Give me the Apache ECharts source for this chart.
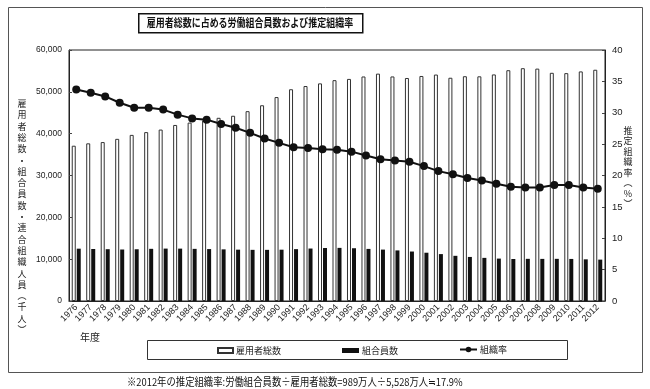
<!DOCTYPE html>
<html><head><meta charset="utf-8">
<script src="https://cdn.jsdelivr.net/npm/echarts@6/dist/echarts.min.js"></script>
<style>html,body{margin:0;padding:0;background:#fff}#c{width:650px;height:389px}</style>
</head><body><div id="c"></div>
<script>
const years = ['1976','1977','1978','1979','1980','1981','1982','1983','1984','1985','1986','1987','1988','1989','1990','1991','1992','1993','1994','1995','1996','1997','1998','1999','2000','2001','2002','2003','2004','2005','2006','2007','2008','2009','2010','2011','2012'];
const employees = [37120,37690,37990,38760,39710,40370,40980,42080,42650,43180,43790,44280,45380,46790,48750,50620,51390,52020,52790,53090,53670,54350,53680,53310,53790,54130,53370,53730,53710,54160,55170,55650,55550,54550,54470,54880,55280];
const members = [12509,12437,12383,12309,12369,12471,12526,12520,12464,12418,12343,12272,12227,12227,12265,12397,12541,12663,12699,12614,12451,12285,12093,11825,11539,11212,10801,10531,10309,10138,10041,10080,10065,10078,10054,9961,9892];
const rate = [33.7,33.2,32.6,31.6,30.8,30.8,30.5,29.7,29.1,28.9,28.2,27.6,26.8,25.9,25.2,24.5,24.4,24.2,24.1,23.8,23.2,22.6,22.4,22.2,21.5,20.7,20.2,19.6,19.2,18.7,18.2,18.1,18.1,18.5,18.5,18.1,17.9];
const leftTicks = [0,10000,20000,30000,40000,50000,60000];
const rightTicks = [0,5,10,15,20,25,30,35,40];
const titleText = '雇用者総数に占める労働組合員数および推定組織率';
const leftName = '雇用者総数・組合員数・連合組織人員︵千人︶';
const rightName = '推定組織率︵%︶';
const note = '※2012年の推定組織率:労働組合員数÷雇用者総数=989万人÷5,528万人≒17.9%';
const names = ['雇用者総数','組合員数','組織率'];

const FONT = '"Noto Sans CJK JP", "Liberation Sans Narrow", sans-serif';
const NUMFONT = '"Liberation Sans Narrow", "Liberation Sans", sans-serif';
const chart = echarts.init(document.getElementById('c'));
const fmt = v => v.toLocaleString('en-US');
chart.setOption({
  animation: false,
  backgroundColor: '#fff',
  grid: {left: 69, right: 45, top: 50, bottom: 88, show: true, borderColor: '#222', borderWidth: 1},
  xAxis: {
    type: 'category', data: years,
    axisLine: {lineStyle: {color: '#222', width: 1}},
    axisTick: {show: false},
    axisLabel: {rotate: 45, fontSize: 9, fontFamily: NUMFONT, color: '#222', interval: 0, margin: 5}
  },
  yAxis: [
    {type: 'value', min: 0, max: 60000, interval: 10000,
     axisLine: {show: true, lineStyle: {color: '#222'}},
     axisTick: {show: true, inside: true, length: 3, lineStyle: {color: '#444'}},
     splitLine: {show: false},
     axisLabel: {fontSize: 8.5, fontFamily: NUMFONT, color: '#222', margin: 7, formatter: v => leftTicks.includes(v) ? fmt(v) : ''}},
    {type: 'value', min: 0, max: 40, interval: 5,
     axisLine: {show: true, lineStyle: {color: '#222'}},
     axisTick: {show: true, inside: true, length: 3, lineStyle: {color: '#444'}},
     splitLine: {show: false},
     axisLabel: {fontSize: 9.5, fontFamily: NUMFONT, color: '#222', margin: 7, formatter: v => rightTicks.includes(v) ? String(v) : ''}}
  ],
  legend: [
    {data: [names[0]], left: 212, top: 341, itemWidth: 15, itemHeight: 5, icon: 'rect', textStyle: {fontSize: 9, fontFamily: FONT, color: '#222', padding: [0,0,0,-2]}},
    {data: [names[1]], left: 337, top: 341, itemWidth: 17, itemHeight: 5, icon: 'rect', textStyle: {fontSize: 9, fontFamily: FONT, color: '#222', padding: [0,0,0,-2]}},
    {data: [names[2]], left: 454, top: 340, itemWidth: 17, itemHeight: 7, textStyle: {fontSize: 9, fontFamily: FONT, color: '#222', padding: [0,0,0,-2]}}
  ],
  series: [
    {name: names[0], type: 'bar', data: employees, barWidth: 4, barGap: '25%',
     itemStyle: {color: '#fff', borderColor: '#333', borderWidth: 1}},
    {name: names[1], type: 'bar', data: members, barWidth: 4,
     itemStyle: {color: '#111'}},
    {name: names[2], type: 'line', yAxisIndex: 1, data: rate, symbol: 'circle', symbolSize: 8,
     lineStyle: {color: '#111', width: 2}, itemStyle: {color: '#111'}, z: 5}
  ],
  graphic: [
    {type: 'rect', left: 6, top: 5, shape: {width: 634, height: 365}, style: {fill: null, stroke: '#555', lineWidth: 1}, silent: true},
    {type: 'rect', left: 138, top: 13, shape: {width: 224, height: 19}, style: {fill: '#fff', stroke: '#111', lineWidth: 1.5}},
    {type: 'text', x: 250, y: 23, scaleX: 0.78, style: {text: titleText, font: 'bold 11.5px ' + FONT, fill: '#111', textAlign: 'center', textVerticalAlign: 'middle'}},
    {type: 'text', x: 22, y: 98, style: {text: leftName.split('').join('\n'), font: '9px ' + FONT, lineHeight: 11.3, fill: '#222', textAlign: 'center'}},
    {type: 'text', x: 628, y: 125, style: {text: rightName.split('').join('\n'), font: '9px ' + FONT, lineHeight: 10.5, fill: '#222', textAlign: 'center'}},
    {type: 'text', x: 90, y: 337, style: {text: '年度', font: '10px ' + FONT, fill: '#222', textAlign: 'center', textVerticalAlign: 'middle'}},
    {type: 'rect', left: 145, top: 338, shape: {width: 420, height: 19}, style: {fill: null, stroke: '#333', lineWidth: 1}},
    {type: 'text', x: 127, y: 382, scaleX: 0.85, style: {text: note, font: '11px ' + FONT, fill: '#111', textVerticalAlign: 'middle'}}
  ]
});
</script></body></html>
